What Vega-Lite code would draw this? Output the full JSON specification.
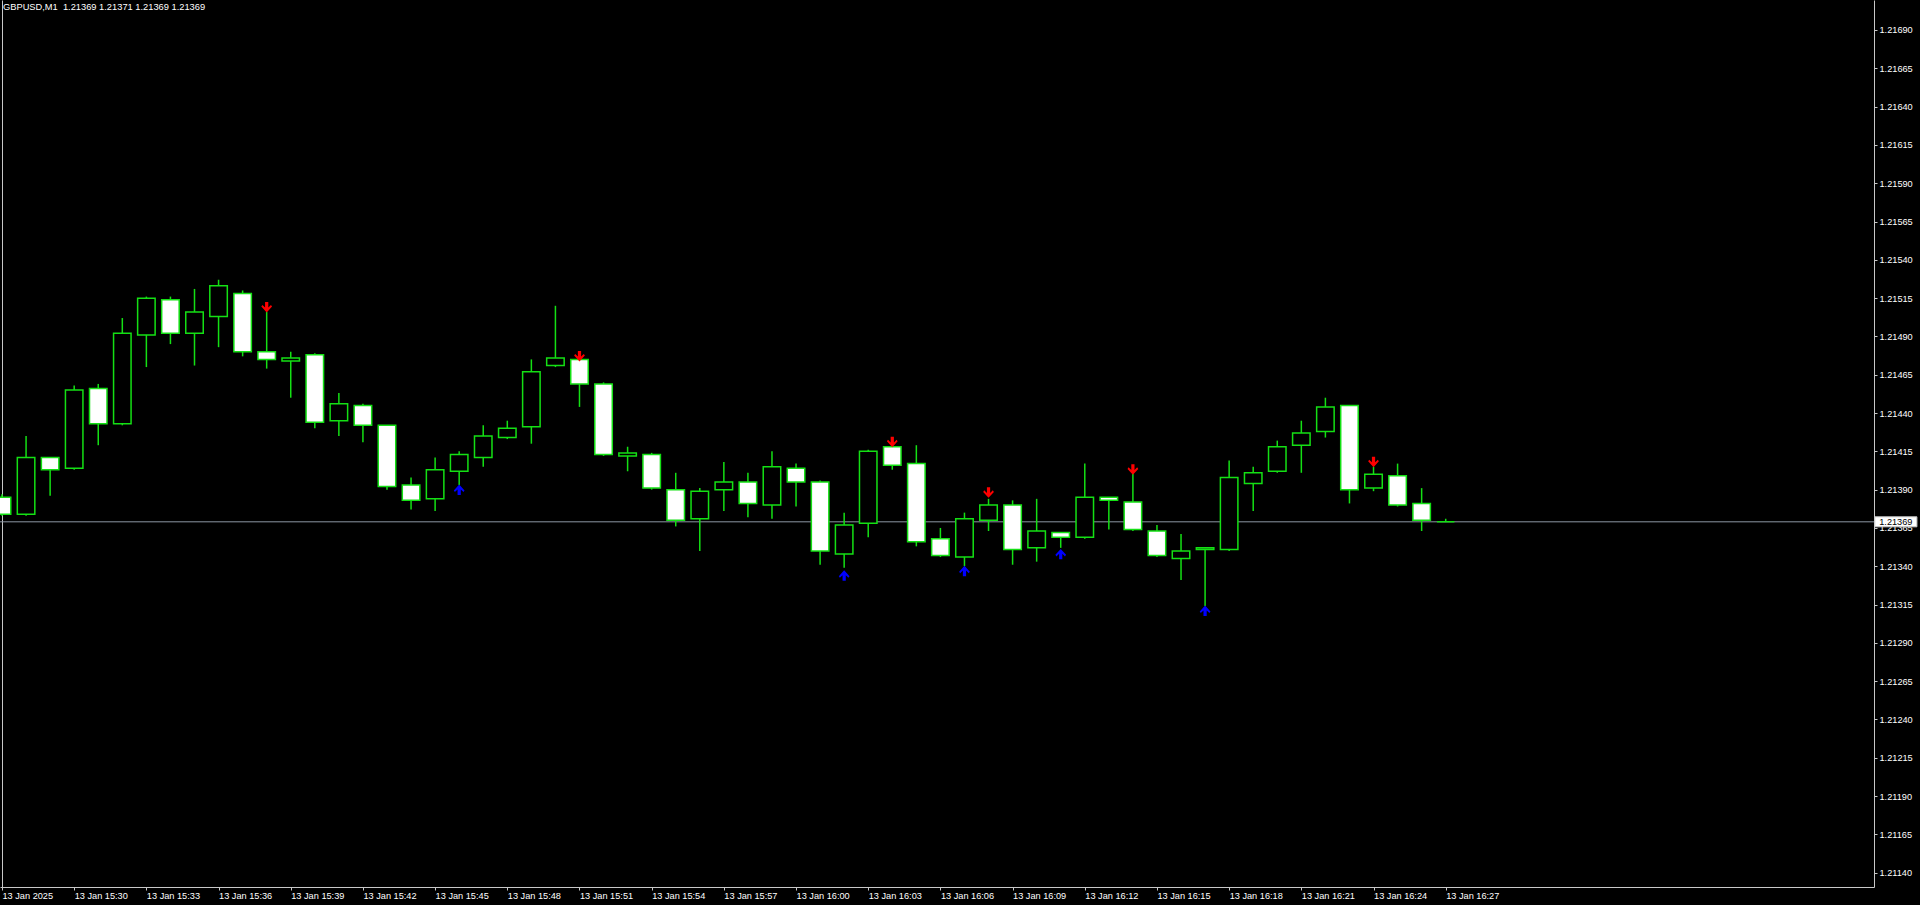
{
  "$schema": "https://vega.github.io/schema/vega-lite/v6.json",
  "width": 1874,
  "height": 887,
  "autosize": {"type": "none"},
  "padding": {"left": 0, "top": 0, "right": 46, "bottom": 18},
  "background": "#000000",
  "config": {"view": {"stroke": null}, "font": "Liberation Sans"},
  "title": {
    "text": "GBPUSD,M1\u00a0 1.21369 1.21371 1.21369 1.21369",
    "orient": "top",
    "anchor": "start",
    "frame": "group",
    "offset": -12,
    "dx": 3,
    "font": "Liberation Sans",
    "fontSize": 9.3,
    "fontWeight": "normal",
    "color": "#ffffff"
  },
  "datasets": {
    "candles": [
      {"t": "2025-01-13T15:27:00", "o": 1.21385, "h": 1.21387, "l": 1.21373, "c": 1.21374},
      {"t": "2025-01-13T15:28:00", "o": 1.21374, "h": 1.21425, "l": 1.21373, "c": 1.21411},
      {"t": "2025-01-13T15:29:00", "o": 1.21411, "h": 1.21411, "l": 1.21386, "c": 1.21403},
      {"t": "2025-01-13T15:30:00", "o": 1.21404, "h": 1.21458, "l": 1.21403, "c": 1.21455},
      {"t": "2025-01-13T15:31:00", "o": 1.21456, "h": 1.21459, "l": 1.21419, "c": 1.21433},
      {"t": "2025-01-13T15:32:00", "o": 1.21433, "h": 1.21502, "l": 1.21432, "c": 1.21492},
      {"t": "2025-01-13T15:33:00", "o": 1.21491, "h": 1.21516, "l": 1.21470, "c": 1.21515},
      {"t": "2025-01-13T15:34:00", "o": 1.21514, "h": 1.21516, "l": 1.21485, "c": 1.21492},
      {"t": "2025-01-13T15:35:00", "o": 1.21492, "h": 1.21521, "l": 1.21471, "c": 1.21506},
      {"t": "2025-01-13T15:36:00", "o": 1.21503, "h": 1.21527, "l": 1.21483, "c": 1.21523},
      {"t": "2025-01-13T15:37:00", "o": 1.21518, "h": 1.21520, "l": 1.21477, "c": 1.21480},
      {"t": "2025-01-13T15:38:00", "o": 1.21480, "h": 1.21506, "l": 1.21469, "c": 1.21475},
      {"t": "2025-01-13T15:39:00", "o": 1.21474, "h": 1.21480, "l": 1.21450, "c": 1.21476},
      {"t": "2025-01-13T15:40:00", "o": 1.21478, "h": 1.21479, "l": 1.21430, "c": 1.21434},
      {"t": "2025-01-13T15:41:00", "o": 1.21435, "h": 1.21453, "l": 1.21425, "c": 1.21446},
      {"t": "2025-01-13T15:42:00", "o": 1.21445, "h": 1.21446, "l": 1.21421, "c": 1.21432},
      {"t": "2025-01-13T15:43:00", "o": 1.21432, "h": 1.21432, "l": 1.21390, "c": 1.21392},
      {"t": "2025-01-13T15:44:00", "o": 1.21393, "h": 1.21398, "l": 1.21377, "c": 1.21383},
      {"t": "2025-01-13T15:45:00", "o": 1.21384, "h": 1.21411, "l": 1.21376, "c": 1.21403},
      {"t": "2025-01-13T15:46:00", "o": 1.21402, "h": 1.21415, "l": 1.21393, "c": 1.21413},
      {"t": "2025-01-13T15:47:00", "o": 1.21411, "h": 1.21432, "l": 1.21405, "c": 1.21425},
      {"t": "2025-01-13T15:48:00", "o": 1.21424, "h": 1.21435, "l": 1.21423, "c": 1.21430},
      {"t": "2025-01-13T15:49:00", "o": 1.21431, "h": 1.21475, "l": 1.21420, "c": 1.21467},
      {"t": "2025-01-13T15:50:00", "o": 1.21471, "h": 1.21510, "l": 1.21470, "c": 1.21476},
      {"t": "2025-01-13T15:51:00", "o": 1.21475, "h": 1.21476, "l": 1.21444, "c": 1.21459},
      {"t": "2025-01-13T15:52:00", "o": 1.21459, "h": 1.21460, "l": 1.21412, "c": 1.21413},
      {"t": "2025-01-13T15:53:00", "o": 1.21412, "h": 1.21418, "l": 1.21402, "c": 1.21414},
      {"t": "2025-01-13T15:54:00", "o": 1.21413, "h": 1.21414, "l": 1.21390, "c": 1.21391},
      {"t": "2025-01-13T15:55:00", "o": 1.21390, "h": 1.21401, "l": 1.21366, "c": 1.21370},
      {"t": "2025-01-13T15:56:00", "o": 1.21371, "h": 1.21391, "l": 1.21350, "c": 1.21389},
      {"t": "2025-01-13T15:57:00", "o": 1.21390, "h": 1.21408, "l": 1.21376, "c": 1.21395},
      {"t": "2025-01-13T15:58:00", "o": 1.21395, "h": 1.21401, "l": 1.21372, "c": 1.21381},
      {"t": "2025-01-13T15:59:00", "o": 1.21380, "h": 1.21415, "l": 1.21371, "c": 1.21405},
      {"t": "2025-01-13T16:00:00", "o": 1.21404, "h": 1.21407, "l": 1.21379, "c": 1.21395},
      {"t": "2025-01-13T16:01:00", "o": 1.21395, "h": 1.21396, "l": 1.21341, "c": 1.21350},
      {"t": "2025-01-13T16:02:00", "o": 1.21348, "h": 1.21375, "l": 1.21339, "c": 1.21367},
      {"t": "2025-01-13T16:03:00", "o": 1.21368, "h": 1.21416, "l": 1.21359, "c": 1.21415},
      {"t": "2025-01-13T16:04:00", "o": 1.21418, "h": 1.21419, "l": 1.21403, "c": 1.21406},
      {"t": "2025-01-13T16:05:00", "o": 1.21407, "h": 1.21419, "l": 1.21353, "c": 1.21356},
      {"t": "2025-01-13T16:06:00", "o": 1.21358, "h": 1.21365, "l": 1.21346, "c": 1.21347},
      {"t": "2025-01-13T16:07:00", "o": 1.21346, "h": 1.21375, "l": 1.21340, "c": 1.21371},
      {"t": "2025-01-13T16:08:00", "o": 1.21370, "h": 1.21384, "l": 1.21363, "c": 1.21380},
      {"t": "2025-01-13T16:09:00", "o": 1.21380, "h": 1.21383, "l": 1.21341, "c": 1.21351},
      {"t": "2025-01-13T16:10:00", "o": 1.21352, "h": 1.21384, "l": 1.21343, "c": 1.21363},
      {"t": "2025-01-13T16:11:00", "o": 1.21362, "h": 1.21362, "l": 1.21352, "c": 1.21359},
      {"t": "2025-01-13T16:12:00", "o": 1.21359, "h": 1.21407, "l": 1.21358, "c": 1.21385},
      {"t": "2025-01-13T16:13:00", "o": 1.21385, "h": 1.21385, "l": 1.21364, "c": 1.21383},
      {"t": "2025-01-13T16:14:00", "o": 1.21382, "h": 1.21401, "l": 1.21363, "c": 1.21364},
      {"t": "2025-01-13T16:15:00", "o": 1.21363, "h": 1.21367, "l": 1.21346, "c": 1.21347},
      {"t": "2025-01-13T16:16:00", "o": 1.21345, "h": 1.21361, "l": 1.21331, "c": 1.21350},
      {"t": "2025-01-13T16:17:00", "o": 1.21351, "h": 1.21352, "l": 1.21314, "c": 1.21352},
      {"t": "2025-01-13T16:18:00", "o": 1.21351, "h": 1.21409, "l": 1.21350, "c": 1.21398},
      {"t": "2025-01-13T16:19:00", "o": 1.21394, "h": 1.21405, "l": 1.21376, "c": 1.21401},
      {"t": "2025-01-13T16:20:00", "o": 1.21402, "h": 1.21422, "l": 1.21401, "c": 1.21418},
      {"t": "2025-01-13T16:21:00", "o": 1.21419, "h": 1.21435, "l": 1.21401, "c": 1.21427},
      {"t": "2025-01-13T16:22:00", "o": 1.21428, "h": 1.21450, "l": 1.21424, "c": 1.21444},
      {"t": "2025-01-13T16:23:00", "o": 1.21445, "h": 1.21445, "l": 1.21381, "c": 1.21390},
      {"t": "2025-01-13T16:24:00", "o": 1.21391, "h": 1.21405, "l": 1.21389, "c": 1.21400},
      {"t": "2025-01-13T16:25:00", "o": 1.21399, "h": 1.21407, "l": 1.21379, "c": 1.21380},
      {"t": "2025-01-13T16:26:00", "o": 1.21381, "h": 1.21391, "l": 1.21363, "c": 1.21370},
      {"t": "2025-01-13T16:27:00", "o": 1.21369, "h": 1.21371, "l": 1.21369, "c": 1.21369}
    ],
    "signals": [
      {"t": "2025-01-13T15:38:00", "p": 1.21509, "dir": "down"},
      {"t": "2025-01-13T15:51:00", "p": 1.21477, "dir": "down"},
      {"t": "2025-01-13T16:04:00", "p": 1.21421, "dir": "down"},
      {"t": "2025-01-13T16:08:00", "p": 1.21388, "dir": "down"},
      {"t": "2025-01-13T16:14:00", "p": 1.21403, "dir": "down"},
      {"t": "2025-01-13T16:24:00", "p": 1.21408, "dir": "down"},
      {"t": "2025-01-13T15:46:00", "p": 1.21390, "dir": "up"},
      {"t": "2025-01-13T16:02:00", "p": 1.21334, "dir": "up"},
      {"t": "2025-01-13T16:07:00", "p": 1.21337, "dir": "up"},
      {"t": "2025-01-13T16:11:00", "p": 1.21348, "dir": "up"},
      {"t": "2025-01-13T16:17:00", "p": 1.21311, "dir": "up"}
    ],
    "last": [{"price": 1.21369}]
  },
  "layer": [
    {
      "data": {"name": "last"},
      "mark": {"type": "rule", "color": "#8d96a3", "strokeWidth": 1},
      "encoding": {
        "y": {
          "field": "price",
          "type": "quantitative",
          "title": null,
          "scale": {"domain": [1.2113066, 1.2170958], "zero": false, "nice": false, "padding": 0},
          "axis": {
            "orient": "right",
            "values": [1.2114, 1.21165, 1.2119, 1.21215, 1.2124, 1.21265, 1.2129, 1.21315, 1.2134, 1.21365, 1.2139, 1.21415, 1.2144, 1.21465, 1.2149, 1.21515, 1.2154, 1.21565, 1.2159, 1.21615, 1.2164, 1.21665, 1.2169],
            "format": ".5f",
            "domain": true,
            "domainColor": "#c8c8c8",
            "domainWidth": 1,
            "grid": false,
            "ticks": true,
            "tickSize": 3,
            "tickColor": "#c8c8c8",
            "labelAlign": "left",
            "labelBaseline": "middle",
            "labelPadding": 2,
            "labelFont": "Liberation Sans",
            "labelFontSize": 9.2,
            "labelColor": "#ffffff",
            "labelFlush": false,
            "labelOverlap": false,
            "labelBound": false
          }
        }
      }
    },
    {
      "data": {"name": "candles"},
      "mark": {"type": "rule", "color": "#14e014", "strokeWidth": 1.5},
      "encoding": {
        "x": {
          "field": "t",
          "type": "temporal",
          "title": null,
          "scale": {
            "domain": [
              {"year": 2025, "month": 1, "date": 13, "hours": 15, "minutes": 26, "seconds": 55},
              {"year": 2025, "month": 1, "date": 13, "hours": 16, "minutes": 44, "seconds": 48}
            ],
            "padding": 0,
            "nice": false
          },
          "axis": {
            "orient": "bottom",
            "values": [
              {"year": 2025, "month": 1, "date": 13, "hours": 15, "minutes": 27},
              {"year": 2025, "month": 1, "date": 13, "hours": 15, "minutes": 30},
              {"year": 2025, "month": 1, "date": 13, "hours": 15, "minutes": 33},
              {"year": 2025, "month": 1, "date": 13, "hours": 15, "minutes": 36},
              {"year": 2025, "month": 1, "date": 13, "hours": 15, "minutes": 39},
              {"year": 2025, "month": 1, "date": 13, "hours": 15, "minutes": 42},
              {"year": 2025, "month": 1, "date": 13, "hours": 15, "minutes": 45},
              {"year": 2025, "month": 1, "date": 13, "hours": 15, "minutes": 48},
              {"year": 2025, "month": 1, "date": 13, "hours": 15, "minutes": 51},
              {"year": 2025, "month": 1, "date": 13, "hours": 15, "minutes": 54},
              {"year": 2025, "month": 1, "date": 13, "hours": 15, "minutes": 57},
              {"year": 2025, "month": 1, "date": 13, "hours": 16, "minutes": 0},
              {"year": 2025, "month": 1, "date": 13, "hours": 16, "minutes": 3},
              {"year": 2025, "month": 1, "date": 13, "hours": 16, "minutes": 6},
              {"year": 2025, "month": 1, "date": 13, "hours": 16, "minutes": 9},
              {"year": 2025, "month": 1, "date": 13, "hours": 16, "minutes": 12},
              {"year": 2025, "month": 1, "date": 13, "hours": 16, "minutes": 15},
              {"year": 2025, "month": 1, "date": 13, "hours": 16, "minutes": 18},
              {"year": 2025, "month": 1, "date": 13, "hours": 16, "minutes": 21},
              {"year": 2025, "month": 1, "date": 13, "hours": 16, "minutes": 24},
              {"year": 2025, "month": 1, "date": 13, "hours": 16, "minutes": 27}
            ],
            "labelExpr": "datum.index == 0 ? timeFormat(datum.value, '%d %b %Y') : timeFormat(datum.value, '%d %b %H:%M')",
            "domain": true,
            "domainColor": "#c8c8c8",
            "domainWidth": 1,
            "grid": true,
            "gridColor": "#c8c8c8",
            "gridWidth": 1,
            "gridOpacity": {"condition": {"test": "datum.index == 0", "value": 1}, "value": 0},
            "ticks": true,
            "tickSize": 3,
            "tickColor": "#c8c8c8",
            "labelAlign": "left",
            "labelBaseline": "top",
            "labelPadding": 1,
            "labelFont": "Liberation Sans",
            "labelFontSize": 9.2,
            "labelColor": "#ffffff",
            "labelFlush": false,
            "labelOverlap": false,
            "labelBound": false
          }
        },
        "y": {"field": "l", "type": "quantitative", "title": null},
        "y2": {"field": "h"}
      }
    },
    {
      "data": {"name": "candles"},
      "mark": {"type": "bar", "width": 17.5, "stroke": "#14e014", "strokeWidth": 1.5},
      "encoding": {
        "x": {"field": "t", "type": "temporal", "title": null},
        "y": {"field": "o", "type": "quantitative", "title": null},
        "y2": {"field": "c"},
        "fill": {"condition": {"test": "datum.c >= datum.o", "value": "#000000"}, "value": "#ffffff"}
      }
    },
    {
      "data": {"name": "signals"},
      "mark": {"type": "point", "filled": true, "size": 115, "opacity": 1, "strokeWidth": 0},
      "encoding": {
        "x": {"field": "t", "type": "temporal", "title": null},
        "y": {"field": "p", "type": "quantitative", "title": null},
        "shape": {
          "field": "dir",
          "type": "nominal",
          "legend": null,
          "scale": {
            "domain": ["down", "up"],
            "range": [
              "M-0.3,-1L0.3,-1L0.3,0.05L0.8,-0.45L1,-0.15L0,0.95L-1,-0.15L-0.8,-0.45L-0.3,0.05Z",
              "M-0.3,1L0.3,1L0.3,-0.05L0.8,0.45L1,0.15L0,-0.95L-1,0.15L-0.8,0.45L-0.3,-0.05Z"
            ]
          }
        },
        "color": {
          "field": "dir",
          "type": "nominal",
          "legend": null,
          "scale": {"domain": ["down", "up"], "range": ["#ff0000", "#0000ff"]}
        }
      }
    },
    {
      "data": {"name": "last"},
      "mark": {"type": "bar", "height": 10, "fill": "#ffffff", "stroke": "#c8c8c8", "strokeWidth": 1},
      "encoding": {
        "x": {"datum": {"year": 2025, "month": 1, "date": 13, "hours": 16, "minutes": 44, "seconds": 50}, "type": "temporal", "title": null},
        "x2": {"datum": {"year": 2025, "month": 1, "date": 13, "hours": 16, "minutes": 46, "seconds": 35}},
        "y": {"field": "price", "type": "quantitative", "title": null}
      }
    },
    {
      "data": {"name": "last"},
      "mark": {"type": "text", "align": "left", "baseline": "middle", "font": "Liberation Sans", "fontSize": 9.2, "color": "#000000"},
      "encoding": {
        "x": {"datum": {"year": 2025, "month": 1, "date": 13, "hours": 16, "minutes": 45, "seconds": 1}, "type": "temporal", "title": null},
        "y": {"field": "price", "type": "quantitative", "title": null},
        "text": {"field": "price", "type": "quantitative", "format": ".5f"}
      }
    }
  ]
}
